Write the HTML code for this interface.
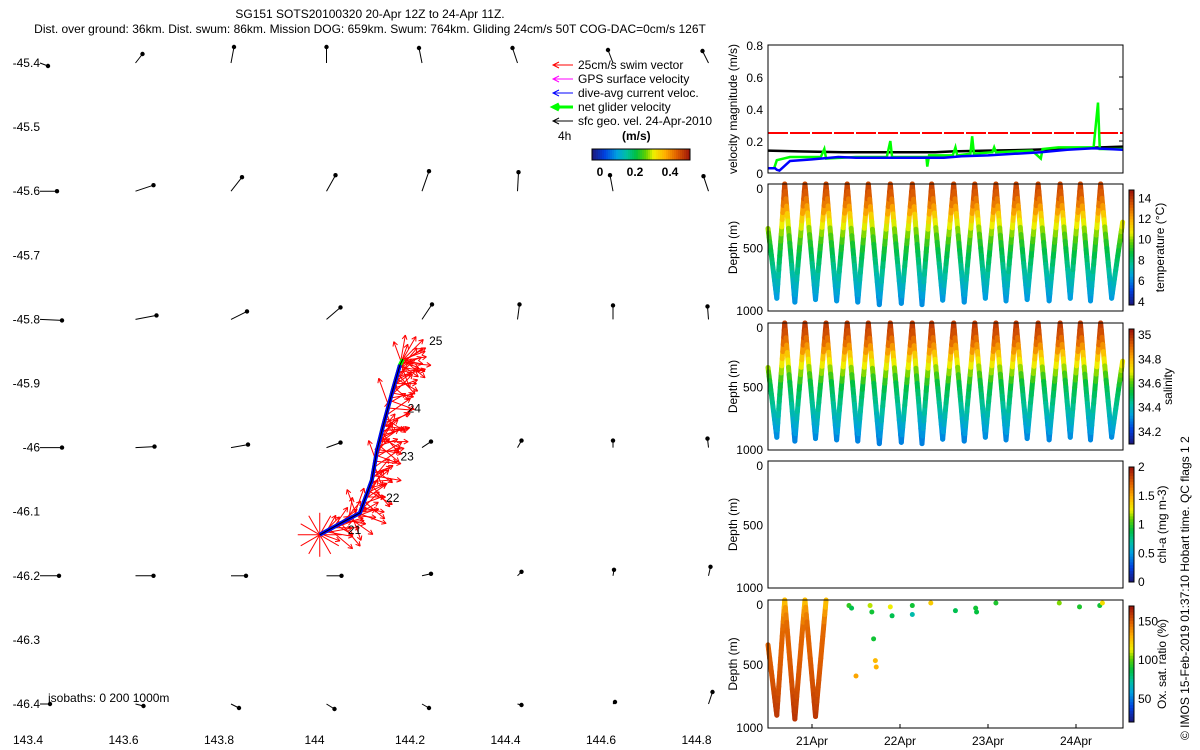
<!DOCTYPE html>
<html><head><meta charset="utf-8">
<style>
html,body{margin:0;padding:0;background:#fff;}
svg{display:block;font-family:"Liberation Sans",sans-serif;}
text{fill:#000;font-size:12px;}
</style></head>
<body>
<svg id="fig" width="1200" height="750" viewBox="0 0 1200 750" xmlns="http://www.w3.org/2000/svg">
<g>
<text x="370" y="18" text-anchor="middle">SG151 SOTS20100320 20-Apr 12Z to 24-Apr 11Z.</text>
<text x="370" y="33" text-anchor="middle">Dist. over ground: 36km. Dist. swum: 86km. Mission DOG: 659km. Swum: 764km. Gliding 24cm/s 50T COG-DAC=0cm/s 126T</text>
</g>
<g id="map"></g>
<g id="legend"></g>
<g id="right"></g>
<text transform="translate(1189,740) rotate(-90)" font-size="12">© IMOS 15-Feb-2019 01:37:10 Hobart time. QC flags 1  2</text>
</svg>
<script>
// ---------- MAP DATA ----------
const lonTicks=[143.4,143.6,143.8,144,144.2,144.4,144.6,144.8];
const latTicks=[-45.4,-45.5,-45.6,-45.7,-45.8,-45.9,-46,-46.1,-46.2,-46.3,-46.4];
const gridLons=[143.4,143.6,143.8,144.0,144.2,144.4,144.6,144.8];
const gridLats=[-45.4,-45.6,-45.8,-46.0,-46.2,-46.4];
const geoU=[[8,7,3,0,-3,-5,-5,-6],[17,18,11,9,7,1,-3,-5],[22,21,16,14,10,2,0,-1],[22,19,17,14,9,4,0,-1],[19,18,15,15,9,4,1,2],[10,8,8,8,7,4,2,4]];
const geoV=[[-3,9,16,16,15,15,13,12],[0,6,14,16,20,19,16,15],[-1,4,8,12,15,15,14,13],[0,1,3,5,6,7,7,9],[0,0,0,0,2,4,6,9],[0,-2,-4,-5,-4,-1,2,12]];
const trackLon=[144.011,144.055,144.095,144.120,144.131,144.143,144.164,144.179,144.185];
const trackLat=[-46.136,-46.118,-46.102,-46.051,-46.004,-45.968,-45.910,-45.871,-45.862];
const swimHeading=[60,110,80,45,100,30,70,130,55,90,35,65,120,75,50,140,85,40,60,100,70,10,125,55,160,20,95,340];
const swimLen=[26,20,30,22,28,18,25,30,21,27,24,29,19,26,23,30,22,27];
const dayLabels=["21","22","23","24","25"];
const dayLon=[144.07,144.15,144.18,144.195,144.24];
const dayLat=[-46.135,-46.085,-46.02,-45.945,-45.84];

// ---------- TIME SERIES DATA ----------
const velTicks=[0,0.2,0.4,0.6,0.8];
const timeTicks=[21,22,23,24];
const timeTickLabels=["21Apr","22Apr","23Apr","24Apr"];
const blueT=[20.5,20.58,20.6,20.63,20.66,20.75,21.0,21.3,21.5,22.0,22.5,22.7,23.0,23.3,23.6,23.9,24.2,24.53];
const blueV=[0.03,0.03,0.02,0.015,0.03,0.075,0.085,0.1,0.095,0.095,0.095,0.105,0.11,0.12,0.13,0.145,0.155,0.145];
const blackT=[20.5,20.85,21.35,21.9,22.4,22.6,23.0,23.5,24.0,24.53];
const blackV=[0.14,0.135,0.13,0.13,0.13,0.135,0.14,0.145,0.155,0.165];
const greenT=[20.57,20.6,20.75,21.1,21.14,21.16,21.5,21.85,21.89,21.91,22.3,22.31,22.33,22.6,22.63,22.65,22.8,22.82,22.84,23.05,23.07,23.09,23.5,23.6,23.62,23.8,24.2,24.25,24.27,24.3,24.53];
const greenV=[0.03,0.08,0.1,0.1,0.15,0.09,0.1,0.1,0.2,0.1,0.1,0.04,0.11,0.11,0.16,0.11,0.12,0.23,0.12,0.13,0.16,0.13,0.14,0.09,0.15,0.16,0.16,0.44,0.15,0.15,0.15];
const surfT=[20.69,20.92,21.16,21.40,21.64,21.89,22.14,22.36,22.61,22.85,23.09,23.32,23.57,23.82,24.05,24.28];
const bottomT=[20.6,20.805,21.04,21.28,21.52,21.765,22.015,22.25,22.485,22.73,22.97,23.205,23.445,23.695,23.935,24.165,24.405];
const bottomD=[900,930,910,920,930,950,940,950,915,930,900,920,910,920,900,920,900];
const startD=350,endD=300;
const profDepth=[0,100,200,300,400,500,700,900,1000];
const tempVals=[14,13.4,12.3,10.8,9.8,8.9,7.6,6.3,5.8];
const salVals=[35.0,34.95,34.85,34.72,34.62,34.52,34.42,34.3,34.28];
const oxyVals=[125,140,148,150,150,152,155,162,165];
const oxyScatT=[21.42,21.45,21.66,21.68,21.89,21.91,22.14,22.14,22.35,22.63,22.86,22.87,23.09,23.81,24.04,24.27,24.3,21.5,21.72,21.73,21.70];
const oxyScatD=[20,40,20,70,30,100,20,90,0,60,40,70,0,0,30,20,0,570,450,500,280];
const oxyScatV=[95,85,110,90,115,85,90,70,125,85,90,88,92,105,92,90,120,135,130,132,90];
const tempCb=[4,6,8,10,12,14],salCb=[34.2,34.4,34.6,34.8,35],chlCb=[0,0.5,1,1.5,2],oxyCb=[50,100,150];

// ---------- HELPERS ----------
const NS="http://www.w3.org/2000/svg";
function mk(p,tag,at){const e=document.createElementNS(NS,tag);for(const k in at)e.setAttribute(k,at[k]);p.appendChild(e);return e;}
const cmS=[0,0.12,0.25,0.35,0.45,0.55,0.63,0.75,0.87,1];
const cmC=[[26,26,128],[0,64,224],[0,160,224],[0,192,160],[0,192,64],[96,208,0],[240,240,0],[255,176,0],[224,96,0],[160,24,8]];
function jet(f){f=Math.max(0,Math.min(1,f));for(let i=1;i<cmS.length;i++)if(f<=cmS[i]){const u=(f-cmS[i-1])/(cmS[i]-cmS[i-1]);const c=cmC[i-1].map((v,k)=>Math.round(v+u*(cmC[i][k]-v)));return`rgb(${c[0]},${c[1]},${c[2]})`;}return'rgb(160,24,8)';}
function interp(xs,ys,x){if(x<=xs[0])return ys[0];for(let i=1;i<xs.length;i++)if(x<=xs[i]){const f=(x-xs[i-1])/(xs[i]-xs[i-1]);return ys[i-1]+f*(ys[i]-ys[i-1]);}return ys[ys.length-1];}

// ---------- MAP ----------
const map=document.getElementById('map');
const mx=lon=>28+(lon-143.4)*477.5, my=lat=>63+(-45.4-lat)*641;
lonTicks.forEach(l=>{const t=mk(map,'text',{x:mx(l),y:744,'text-anchor':'middle'});t.textContent=String(l);

});
latTicks.forEach(l=>{const t=mk(map,'text',{x:40,y:my(l)+4,'text-anchor':'end'});t.textContent=String(l);

});
gridLats.forEach((la,i)=>gridLons.forEach((lo,j)=>{
 const x0=mx(lo)+12,y0=my(la),x1=x0+geoU[i][j],y1=y0-geoV[i][j];
 const g=mk(map,'g',{});
 
 
 mk(g,'line',{x1:x0,y1:y0,x2:x1,y2:y1,stroke:'#000','stroke-width':1});
 mk(g,'circle',{cx:x1,cy:y1,r:2.2,fill:'#000'});
}));
const swim=mk(map,'g',{});


const N=120;
for(let k=0;k<N;k++){const s=k/(N-1)*(trackLon.length-1);const i=Math.min(Math.floor(s),trackLon.length-2),f=s-i;
 const lo=trackLon[i]+f*(trackLon[i+1]-trackLon[i]),la=trackLat[i]+f*(trackLat[i+1]-trackLat[i]);
 const h=swimHeading[k%swimHeading.length]*Math.PI/180;const L=swimLen[k%swimLen.length];
 const x0=mx(lo),y0=my(la);const x1=x0+L*Math.sin(h),y1=y0-L*Math.cos(h);
 mk(swim,'line',{x1:x0,y1:y0,x2:x1,y2:y1,stroke:'#f00','stroke-width':1});
 mk(swim,'line',{x1:x1,y1:y1,x2:x1-5*Math.sin(h-0.5),y2:y1+5*Math.cos(h-0.5),stroke:'#f00','stroke-width':1});
 mk(swim,'line',{x1:x1,y1:y1,x2:x1-5*Math.sin(h+0.5),y2:y1+5*Math.cos(h+0.5),stroke:'#f00','stroke-width':1});
}
for(let a=0;a<360;a+=30){const x0=mx(trackLon[0]),y0=my(trackLat[0]);const h=a*Math.PI/180;
 mk(swim,'line',{x1:x0,y1:y0,x2:x0+22*Math.sin(h),y2:y0-22*Math.cos(h),stroke:'#f00','stroke-width':1});}
const tp=trackLon.map((l,i)=>mx(l)+','+my(trackLat[i])).join(' ');
const tg=mk(map,'polyline',{points:tp,fill:'none',stroke:'#0f0','stroke-width':4});


const tb=mk(map,'polyline',{points:trackLon.slice(0,-1).map((l,i)=>mx(l)+','+my(trackLat[i])).join(' '),fill:'none',stroke:'#00f','stroke-width':4});


mk(map,'polyline',{points:tp,fill:'none',stroke:'#000','stroke-width':1});
dayLabels.forEach((d,i)=>{const t=mk(map,'text',{x:mx(dayLon[i]),y:my(dayLat[i])});t.textContent=d;

});
const iso=mk(map,'text',{x:48,y:702});iso.textContent="isobaths: 0   200  1000m";



// ---------- LEGEND ----------
const lg=document.getElementById('legend');
const legItems=[["25cm/s swim vector","#f00",1],["GPS surface velocity","#f0f",1],["dive-avg current veloc.","#00f",1],["net glider velocity","#0f0",3],["sfc geo. vel. 24-Apr-2010","#000",1]];
legItems.forEach((it,i)=>{const y=65+i*14;const g=mk(lg,'g',{});
 
 
 mk(g,'line',{x1:553,y1:y,x2:573,y2:y,stroke:it[1],'stroke-width':it[2]});
 mk(g,'polyline',{points:`559,${y-3} 553,${y} 559,${y+3}`,fill:'none',stroke:it[1],'stroke-width':it[2]});
 const t=mk(g,'text',{x:578,y:y+4});t.textContent=it[0];});
const t4=mk(lg,'text',{x:558,y:140});t4.textContent="4h";
const tms=mk(lg,'text',{x:622,y:140,'font-weight':'bold'});tms.textContent="(m/s)";
for(let i=0;i<49;i++)mk(lg,'rect',{x:592+i*2,y:149,width:2.2,height:11,fill:jet(i/48)});
mk(lg,'rect',{x:592,y:149,width:98,height:11,fill:'none',stroke:'#000'});
[["0",600],["0.2",635],["0.4",670]].forEach(a=>{const t=mk(lg,'text',{x:a[1],y:176,'text-anchor':'middle','font-weight':'bold'});t.textContent=a[0];});

// ---------- RIGHT PANELS ----------
const R=document.getElementById('right');
const X0=768,X1=1123;const tx=t=>X0+(t-20.5)*88;
function frame(top,bot,name){const r=mk(R,'rect',{x:X0,y:top,width:X1-X0,height:bot-top,fill:'none',stroke:'#000'});
 
 }
const vT=45,vB=173;const vy=v=>vB-v*(vB-vT)/0.8;
velTicks.forEach(v=>{const t=mk(R,'text',{x:763,y:vy(v)+5,'text-anchor':'end'});t.textContent=String(v);
 mk(R,'line',{x1:X1-4,y1:vy(v),x2:X1,y2:vy(v),stroke:'#000'});});
const vl=mk(R,'text',{transform:`translate(737,${(vT+vB)/2}) rotate(-90)`,'text-anchor':'middle'});vl.textContent="velocity magnitude (m/s)";
const red=mk(R,'line',{x1:X0,y1:vy(0.25),x2:X1,y2:vy(0.25),stroke:'#f00','stroke-width':2,'stroke-dasharray':'20,2'});


function series(T,V,col,w,name){const p=mk(R,'polyline',{points:T.map((t,i)=>tx(t)+','+vy(V[i])).join(' '),fill:'none',stroke:col,'stroke-width':w});
 
 }
series(blackT,blackV,'#000',2.5,'geo-velocity-line');
series(greenT,greenV,'#0f0',2.5,'net-glider-velocity-line');
series(blueT,blueV,'#00f',2.5,'current-velocity-line');
frame(vT,vB,'velocity-axes');

const panels=[{top:184,bot:311,vals:tempVals,mn:3.7,mx:14.8,cb:tempCb,lab:"temperature (°C)",name:"temperature",lx:1164},
{top:323,bot:450,vals:salVals,mn:34.1,mx:35.05,cb:salCb,lab:"salinity",name:"salinity",lx:1172},
{top:461,bot:588,vals:null,mn:0,mx:2,cb:chlCb,lab:"chl-a (mg m-3)",name:"chlorophyll",lx:1166},
{top:600,bot:728,vals:oxyVals,mn:20,mx:170,cb:oxyCb,lab:"Ox. sat. ratio (%)",name:"oxygen",lx:1166}];
const diveT=[20.5],diveD=[startD];
bottomT.forEach((bt,i)=>{diveT.push(bt);diveD.push(bottomD[i]);if(i<surfT.length){diveT.push(surfT[i]);diveD.push(0);}});
diveT.push(24.53);diveD.push(endD);
panels.forEach(P=>{
 const dy=d=>P.top+d*(P.bot-P.top)/1000;
 [0,500,1000].forEach(d=>{const t=mk(R,'text',{x:763,y:dy(d)+(d===0?9:d===1000?4:5),'text-anchor':'end'});t.textContent=String(d);});
 const dl=mk(R,'text',{transform:`translate(737,${(P.top+P.bot)/2}) rotate(-90)`,'text-anchor':'middle'});dl.textContent="Depth (m)";
 const cT=P.top+6,cB=P.bot-6;
 const cbg=mk(R,'g',{});
 
 
 for(let i=0;i<40;i++)mk(cbg,'rect',{x:1129,y:cB-(i+1)*(cB-cT)/40,width:5,height:(cB-cT)/40+0.5,fill:jet(i/39)});
 mk(cbg,'rect',{x:1129,y:cT,width:5,height:cB-cT,fill:'none',stroke:'#000'});
 P.cb.forEach(v=>{const y=cB-(v-P.mn)/(P.mx-P.mn)*(cB-cT);const t=mk(cbg,'text',{x:1138,y:y+4});t.textContent=String(v);});
 const cl=mk(R,'text',{transform:`translate(${P.lx},${(P.top+P.bot)/2}) rotate(-90)`,'text-anchor':'middle'});cl.textContent=P.lab;
 if(P.vals){
 const g=mk(R,'g',{});
 
 
 const tEnd=P.name==='oxygen'?21.16:99;
 for(let i=1;i<diveT.length;i++){if(diveT[i]>tEnd+0.001)break;
  const steps=16;for(let s=0;s<steps;s++){
   const t0=diveT[i-1]+(diveT[i]-diveT[i-1])*s/steps,t1=diveT[i-1]+(diveT[i]-diveT[i-1])*(s+1)/steps;
   const d0=diveD[i-1]+(diveD[i]-diveD[i-1])*s/steps,d1=diveD[i-1]+(diveD[i]-diveD[i-1])*(s+1)/steps;
   const v=interp(profDepth,P.vals,(d0+d1)/2);
   mk(g,'line',{x1:tx(t0),y1:dy(d0),x2:tx(t1),y2:dy(d1),stroke:jet((v-P.mn)/(P.mx-P.mn)),'stroke-width':5,'stroke-linecap':'round'});}}
 if(P.name==='oxygen')oxyScatT.forEach((t,i)=>{mk(g,'circle',{cx:tx(t),cy:dy(oxyScatD[i])+3,r:2.5,fill:jet((oxyScatV[i]-P.mn)/(P.mx-P.mn))});});
 }
 frame(P.top,P.bot,P.name+'-axes');
});
timeTicks.forEach((t,i)=>{mk(R,'line',{x1:tx(t),y1:724,x2:tx(t),y2:728,stroke:'#000'});
 const l=mk(R,'text',{x:tx(t),y:745,'text-anchor':'middle'});l.textContent=timeTickLabels[i];
 
 });
</script>
</body></html>
